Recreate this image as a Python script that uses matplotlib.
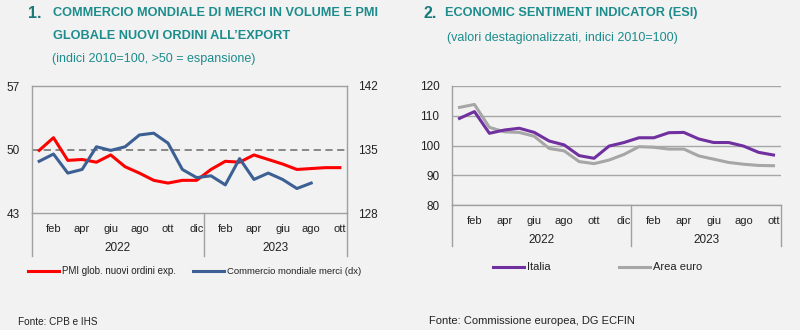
import matplotlib
matplotlib.use('Agg')
import matplotlib.pyplot as plt
import matplotlib.transforms as mtransforms

plt.rcParams['font.family'] = ['Liberation Sans Narrow', 'Liberation Sans', 'DejaVu Sans']

# months Jan 2022 - Oct 2023
months = ['gen', 'feb', 'mar', 'apr', 'mag', 'giu', 'lug', 'ago', 'set', 'ott', 'nov', 'dic',
          'gen', 'feb', 'mar', 'apr', 'mag', 'giu', 'lug', 'ago', 'set', 'ott']
years = ['2022', '2023']

# chart 1
pmi_export = [49.9, 51.3, 48.8, 48.9, 48.6, 49.4, 48.1, 47.4, 46.6, 46.3, 46.6, 46.6,
              47.8, 48.7, 48.6, 49.4, 48.9, 48.4, 47.8, 47.9, 48.0, 48.0]
world_trade = [133.7, 134.5, 132.4, 132.8, 135.3, 134.9, 135.3, 136.6, 136.8, 135.7, 132.8, 131.9,
               132.1, 131.1, 134.0, 131.7, 132.4, 131.7, 130.7, 131.3]

# chart 2
esi_italia = [109.1, 111.4, 104.1, 105.2, 105.8, 104.4, 101.5, 100.2, 96.6, 95.7, 99.8, 101.0,
              102.6, 102.6, 104.3, 104.4, 102.2, 101.0, 101.0, 99.8, 97.7, 96.8]
esi_euro = [112.8, 113.8, 106.1, 104.6, 104.4, 103.1, 99.0, 98.2, 94.6, 93.9, 95.1, 97.0,
            99.6, 99.4, 98.8, 98.8, 96.5, 95.4, 94.3, 93.7, 93.3, 93.2]

BG = '#f2f2f2'
TEAL = '#1d8c8c'
TEAL_DARK = '#177a7a'
W, H = 800, 330

fig = plt.figure(figsize=(8, 3.3), dpi=100, facecolor=BG)


def px_axes(x0, y0, x1, y1):
    return fig.add_axes([x0 / W, 1 - y1 / H, (x1 - x0) / W, (y1 - y0) / H])


def ftext(x, y, s, **kw):
    fig.text(x / W, 1 - y / H, s, **kw)


def month_axis(ax, sep_bottom_px, year_y_px):
    n = len(months)
    ax.set_xlim(-0.5, n - 0.5)
    ticks = [i for i in range(n) if i % 2 == 1]
    ax.set_xticks(ticks)
    ax.set_xticklabels([months[i] for i in ticks], fontsize=8, color='#222222')
    ax.tick_params(axis='x', length=0, pad=8)
    # year separators below the axis
    bbox = ax.get_position()
    ax_h_px = bbox.height * H
    bot_px = (1 - bbox.y0) * H
    y_low = -(sep_bottom_px - bot_px) / ax_h_px
    y_year = -(year_y_px - bot_px) / ax_h_px
    tr = mtransforms.blended_transform_factory(ax.transData, ax.transAxes)
    for xs in [-0.5, 11.5, n - 0.5]:
        ax.plot([xs, xs], [0, y_low], transform=tr, color='#a0a0a0', lw=1, clip_on=False)
    ax.text(5.5, y_year, years[0], transform=tr, ha='center', va='center', fontsize=8.5, color='#222222')
    ax.text((11.5 + n - 0.5) / 2, y_year, years[1], transform=tr, ha='center', va='center',
            fontsize=8.5, color='#222222')


# ---------- chart 1 ----------
ax1 = px_axes(32, 86, 347, 213)
ax1.set_facecolor(BG)
x_pmi = list(range(len(pmi_export)))
x_trade = list(range(len(world_trade)))
ax1.axhline(50, color='#7f7f7f', lw=1.3, ls=(0, (4, 2.5)))
ax1.plot(x_pmi, pmi_export, color='#ff0000', lw=2.2, solid_joinstyle='round')
ax1.set_ylim(43, 57)
ax1.set_yticks([43, 50, 57])
ax1.tick_params(axis='y', length=0, labelsize=8.5, pad=9, colors='#222222')
for s in ax1.spines.values():
    s.set_color('#a0a0a0')
    s.set_linewidth(1)
month_axis(ax1, 256, 248)

ax1r = ax1.twinx()
ax1r.plot(x_trade, world_trade, color='#3c6094', lw=2.2, solid_joinstyle='round')
ax1r.set_ylim(128, 142)
ax1r.set_yticks([128, 135, 142])
ax1r.tick_params(axis='y', length=0, labelsize=8.5, pad=8, colors='#222222')
for s in ax1r.spines.values():
    s.set_visible(False)

# ---------- chart 2 ----------
ax2 = px_axes(452, 86, 781, 205)
ax2.set_facecolor(BG)
x_esi = list(range(len(esi_italia)))
ax2.plot(x_esi, esi_euro, color='#a6a6a6', lw=2.2, solid_joinstyle='round')
ax2.plot(x_esi, esi_italia, color='#7030a0', lw=2.2, solid_joinstyle='round')
ax2.set_ylim(80, 120)
ax2.set_yticks([80, 90, 100, 110, 120])
ax2.grid(axis='y', color='#a6a6a6', lw=1)
ax2.set_axisbelow(True)
ax2.tick_params(axis='y', length=0, labelsize=8.5, pad=9, colors='#222222')
for k in ['top', 'right']:
    ax2.spines[k].set_visible(False)
for k in ['left', 'bottom']:
    ax2.spines[k].set_color('#a0a0a0')
    ax2.spines[k].set_linewidth(1)
month_axis(ax2, 246, 240)

# ---------- titles ----------
ftext(28, 13, '1.', fontsize=11.5, fontweight='bold', color=TEAL_DARK, va='center')
ftext(53, 13, 'COMMERCIO MONDIALE DI MERCI IN VOLUME E PMI', fontsize=9.2, fontweight='bold',
      color=TEAL, va='center')
ftext(53, 36, 'GLOBALE NUOVI ORDINI ALL\u2019EXPORT', fontsize=9.2, fontweight='bold',
      color=TEAL, va='center')
ftext(52, 59, '(indici 2010=100, >50 = espansione)', fontsize=9, color=TEAL, va='center')

ftext(423, 13, '2.', fontsize=11.5, fontweight='bold', color=TEAL_DARK, va='center')
ftext(445, 13, 'ECONOMIC SENTIMENT INDICATOR (ESI)', fontsize=9.2, fontweight='bold',
      color=TEAL, va='center')
ftext(447, 38, '(valori destagionalizzati, indici 2010=100)', fontsize=9, color=TEAL, va='center')

# ---------- legends ----------
def legend_item(x0, y, color, label, size):
    fig.add_artist(plt.Line2D([x0 / W, (x0 + 31) / W], [1 - y / H, 1 - y / H], color=color, lw=2.2))
    ftext(x0 + 34, y, label, fontsize=size, color='#222222', va='center')


legend_item(28, 271, '#ff0000', 'PMI glob. nuovi ordini exp.', 7)
legend_item(193, 271, '#3c6094', 'Commercio mondiale merci (dx)', 6.8)
legend_item(493, 267, '#7030a0', 'Italia', 8)
legend_item(619, 267, '#a6a6a6', 'Area euro', 8)

ftext(18, 322, 'Fonte: CPB e IHS', fontsize=7.2, color='#222222', va='center')
ftext(429, 321, 'Fonte: Commissione europea, DG ECFIN', fontsize=8, color='#222222', va='center')

fig.savefig('out.png', dpi=100, facecolor=BG)
